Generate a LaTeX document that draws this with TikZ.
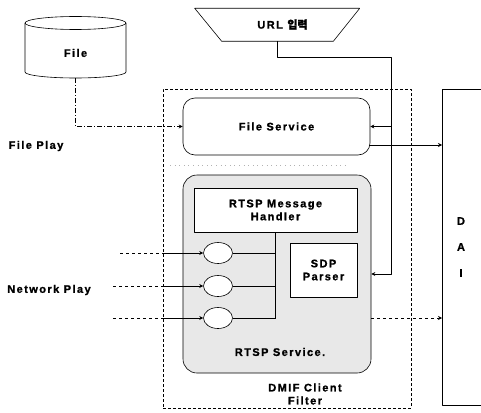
\documentclass[tikz,border=0pt]{standalone}
\usepackage{fontspec}
\setmainfont{Liberation Sans}[LetterSpace=13,BoldFeatures={FakeBold=1.2}]
\newfontfamily\krfont{Noto Sans CJK KR}[FakeBold=2]
\usetikzlibrary{arrows.meta,shapes.geometric}
\tikzset{
	box/.style={draw,fill=white,inner sep=0pt,align=center},
	hole/.style={inner sep=0pt,align=center},
	dotline/.style={dash pattern=on 5pt off 2pt on 1pt off 2pt},
	sess/.style={draw,ellipse,fill=white,minimum width=29pt,minimum height=21pt,inner sep=0pt}
}
\begin{document}
\begin{tikzpicture}[x=1pt,y=-1pt,font=\bfseries\fontsize{11}{13}\selectfont,line join=round,line width=0.6pt,>={Stealth[length=4pt,width=4pt]}]
	\useasboundingbox (0,0) rectangle (481,412);
	\def \busX{391}
	\def \busY{57}
	% outer frames
	\node[draw,densely dashed,minimum width=248pt,minimum height=319pt] (dmif) at (287,248.5) {};
	\node[draw,minimum width=90pt,minimum height=316pt,anchor=north west] (daibox) at (442,89) {};
	\node[align=center] (dai) at (461,247) {D\\[13pt]A\\[13pt]I};
	\node[align=center] (dmiflbl) at (305,394) {DMIF Client\\Filter};
	% file and url
	\node[hole,minimum width=101pt,minimum height=50pt] (file) at (75.5,53) {File};
	\draw (25,23) -- (25,72) arc[start angle=180,end angle=0,x radius=50.5,y radius=6] -- (126,23);
	\draw (75.5,23) ellipse[x radius=50.5,y radius=6.5];
	\node[hole,minimum width=111pt,minimum height=33pt] (url) at (277.5,24.5) {\hspace{10pt}URL {\krfont 입력}};
	\draw (url.south west) -- ++(-27,-33) -- ++(165,0) -- (url.south east) -- cycle;
	% services
	\node[draw,rounded corners=12pt,minimum width=187pt,minimum height=57pt] (filesvc) at (276.5,126.5) {File Service};
	\node[draw,rounded corners=14pt,fill=gray!18,minimum width=188pt,minimum height=198pt] (rtsp) at (277,274) {};
	\node (rtsplbl) at (280,352) {RTSP Service.};
	\node[box,minimum width=163pt,minimum height=44pt] (handler) at (275.5,210) {RTSP Message\\Handler};
	\node[box,minimum width=67pt,minimum height=54pt] (sdp) at (323.5,270) {SDP\\Parser};
	\draw[gray!60,loosely dotted] (170,165) -- (347,165);
	% sessions
	\foreach \i/\y/\x in {1/253/120,2/286/113,3/318/113}{
		\node[sess] (s\i) at (218,\y) {};
		\coordinate (in\i) at (\x,\y);
		\draw[dashed] (in\i) -- (dmif.west |- s\i);
		\draw[->] (dmif.west |- s\i) -- (s\i.west);
		\draw (s\i.east) -- (handler.south |- s\i.east);
	}
	\draw (handler.south) -- (handler.south |- s3.east);
	% connectors
	\draw[dotline,->] (file.south) |- (filesvc.west);
	\coordinate (urlbend) at (\busX,\busY);
	\draw[->] (url.south) |- (urlbend) |- (rtsp.east);
	\draw[->] (urlbend |- filesvc.east) -- (filesvc.east);
	\coordinate (fsout) at (370,145);
	\draw[->] (fsout) -- (daibox.west |- fsout);
	\draw[dashed,->] (rtsp.east |- s3) -- (daibox.west |- s3);
	% side labels
	\node (fileplay) at (36,146) {File Play};
	\node (netplay) at (49,290) {Network Play};
\end{tikzpicture}
\end{document}
